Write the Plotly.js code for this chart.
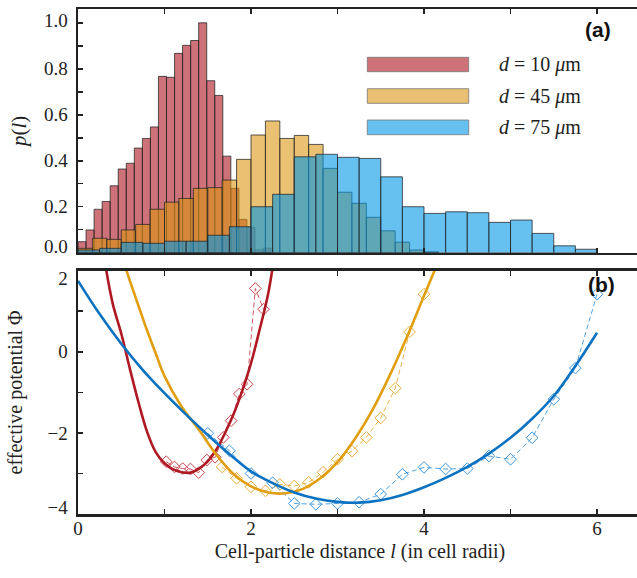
<!DOCTYPE html>
<html><head><meta charset="utf-8">
<script src="https://cdn.plot.ly/plotly-3.0.1.min.js"></script>
<style>html,body{margin:0;padding:0;overflow:hidden;background:#fff}</style>
</head><body><div id="chart" style="width:642px;height:578px"></div>
<script>
// ---- histogram data (panel a) ----
const binW10 = 0.093;
const p10 = [0.048,0.099,0.189,0.223,0.291,0.364,0.389,0.455,0.497,0.547,0.767,0.763,0.867,0.902,0.923,1.0,0.748,0.684,0.42,0.28,0.145,0.11,0.012,0.02];
const binW45 = 1/6;
const p45 = [0.019,0.063,0.058,0.099,0.123,0.189,0.220,0.236,0.280,0.283,0.316,0.406,0.512,0.573,0.497,0.510,0.471,0.367,0.263,0.215,0.154,0.095,0.046,0.012,0.004];
const binW75 = 0.25;
const p75 = [0.012,0.019,0.045,0.041,0.050,0.050,0.076,0.113,0.200,0.254,0.417,0.428,0.415,0.410,0.330,0.200,0.171,0.178,0.174,0.132,0.142,0.084,0.030,0.015];
const legendNames = ['<i>d</i> = 10 <i>μ</i>m','<i>d</i> = 45 <i>μ</i>m','<i>d</i> = 75 <i>μ</i>m'];

// ---- effective potential (panel b): measured points ----
const lPts10 = [1.02,1.115,1.21,1.30,1.395,1.49,1.585,1.68,1.77,1.865,1.955,2.05,2.145];
const phiPts10 = [-2.71,-2.84,-2.88,-2.89,-2.98,-2.67,-2.60,-2.11,-1.70,-1.04,-0.80,1.56,1.05];
const lPts45 = [1.667,1.833,2.0,2.167,2.333,2.5,2.667,2.833,3.0,3.167,3.333,3.5,3.667,3.833,4.0];
const phiPts45 = [-2.84,-3.12,-3.33,-3.43,-3.27,-3.31,-3.22,-2.97,-2.65,-2.45,-2.11,-1.63,-0.90,0.49,1.42];
const lPts75 = [1.5,1.75,2.0,2.25,2.5,2.75,3.0,3.25,3.5,3.75,4.0,4.25,4.5,4.75,5.0,5.25,5.5,5.75,6.0];
const phiPts75 = [-2.01,-2.44,-3.00,-3.23,-3.74,-3.76,-3.74,-3.71,-3.51,-3.02,-2.85,-2.89,-2.88,-2.57,-2.65,-2.12,-1.17,-0.40,1.42];

// ---- fitted curves ----
const lFit10 = [0.3,0.4,0.5,0.6,0.7,0.8,0.9,1.0,1.1,1.2,1.3,1.4,1.5,1.6,1.7,1.8,1.9,2.0,2.1,2.2,2.3];
const phiFit10 = [2.35,1.2,0.45,-0.42,-1.25,-1.98,-2.48,-2.75,-2.9,-2.97,-2.98,-2.88,-2.7,-2.41,-2.0,-1.53,-0.95,-0.28,0.55,1.45,2.8];
const lFit45 = [0.5,0.6,0.7,0.8,0.9,1.0,1.2,1.4,1.6,1.8,2.0,2.2,2.4,2.6,2.8,3.0,3.2,3.4,3.6,3.8,4.0,4.2];
const phiFit45 = [2.4,1.75,1.13,0.52,-0.05,-0.6,-1.36,-1.93,-2.54,-3.02,-3.32,-3.47,-3.49,-3.38,-3.12,-2.72,-2.15,-1.45,-0.6,0.35,1.38,2.4];
const lFit75 = [0,0.25,0.5,0.75,1.0,1.25,1.5,1.75,2.0,2.25,2.5,2.75,3.0,3.25,3.5,3.75,4.0,4.25,4.5,4.75,5.0,5.25,5.5,5.75,6.0];
const phiFit75 = [1.75,0.93,0.2,-0.45,-1.02,-1.55,-2.05,-2.52,-2.95,-3.24,-3.47,-3.62,-3.70,-3.72,-3.66,-3.53,-3.34,-3.11,-2.84,-2.51,-2.12,-1.65,-1.09,-0.35,0.47];

// ---- ticks and tick labels ----
const xTickVals = [0,1,2,3,4,5,6];
const xTickText = ['0','','2','','4','','6'];
const yTopTicks = [0,0.1,0.2,0.3,0.4,0.5,0.6,0.7,0.8,0.9,1.0];
const yTopText = ['0.0','0.2','0.4','0.6','0.8','1.0'];
const yBotTicks = [-4,-3,-2,-1,0,1,2];
const yBotText = ['\u22124','\u22122','0','2'];
// label anchor placement (end labels nudged inward as in the figure)
const yTopLabelAt = [0.028,0.2,0.4,0.6,0.8,1.01];
const yBotLabelAt = [-3.83,-2,0,1.8];

const fills = ['rgba(170,20,30,0.6)','rgba(220,150,20,0.6)','rgba(0,150,230,0.6)'];
const edge = 'rgba(35,35,35,0.75)';
const lineCols = ['rgb(175,25,35)','rgb(225,158,15)','rgb(10,114,192)'];
const ptCols = ['rgb(200,70,80)','rgb(232,172,60)','rgb(60,150,220)'];

function barTrace(p, w, i){
  return {type:'bar', x:p.map((_,k)=>k*w), y:p, width:w, offset:0,
    marker:{color:fills[i], line:{color:edge, width:1}}, xaxis:'x', yaxis:'y', hoverinfo:'skip'};
}
function ptsTrace(l, phi, i){
  return {type:'scatter', mode:'lines+markers', x:l, y:phi, xaxis:'x2', yaxis:'y2',
    line:{color:ptCols[i], width:0.9, dash:'5px,3px'},
    marker:{symbol:'diamond-open', size:9, color:ptCols[i], line:{width:1, color:ptCols[i]}}};
}
function fitTrace(l, phi, i){
  return {type:'scatter', mode:'lines', x:l, y:phi, xaxis:'x2', yaxis:'y2',
    line:{color:lineCols[i], width:2.6, shape:'spline', smoothing:1}};
}

const data = [
  barTrace(p10, binW10, 0), barTrace(p45, binW45, 1), barTrace(p75, binW75, 2),
  ptsTrace(lPts10, phiPts10, 0), ptsTrace(lPts45, phiPts45, 1), ptsTrace(lPts75, phiPts75, 2),
  fitTrace(lFit10, phiFit10, 0), fitTrace(lFit45, phiFit45, 1), fitTrace(lFit75, phiFit75, 2)
];

const axBase = {showline:true, linecolor:'#222', linewidth:2.5, mirror:'allticks', ticks:'inside',
  ticklen:5, tickwidth:1.5, tickcolor:'#222', showgrid:false, zeroline:false,
  tickfont:{family:'Liberation Serif, serif', size:19, color:'#222'}};
const minorTicks = vals => ({tickvals:vals, ticks:'inside', ticklen:5, tickwidth:1.5, tickcolor:'#222', showgrid:false});

const serif = 'Liberation Serif, Times New Roman, serif';
const X0 = 78, PW = 564, PB = 514, PH = 505;
const px = v => (v - X0)/PW, py = v => (PB - v)/PH;

const swatchY = [[57.3,71.7],[88.7,103.3],[120,134.7]];
const shapes = swatchY.map((s,i)=>({type:'rect', xref:'paper', yref:'paper',
  x0:px(367.3), x1:px(468.7), y0:py(s[1]), y1:py(s[0]), fillcolor:fills[i], line:{color:'rgba(120,120,120,0.8)', width:1}}));
const annotations = legendNames.map((t,i)=>({xref:'paper', yref:'paper', x:px(497), y:py((swatchY[i][0]+swatchY[i][1])/2),
  xanchor:'left', yanchor:'middle', text:t, showarrow:false, font:{family:serif, size:20, color:'#222'}}));
annotations.push({xref:'paper', yref:'paper', x:px(613), y:py(16), text:'<b>(a)</b>', showarrow:false,
  font:{family:'Liberation Sans, Arial, sans-serif', size:21, color:'#111'}});
annotations.push({xref:'paper', yref:'paper', x:px(617), y:py(284), text:'<b>(b)</b>', showarrow:false,
  font:{family:'Liberation Sans, Arial, sans-serif', size:21, color:'#111'}});

const layout = {
  width:642, height:578, margin:{l:78, r:0, t:9, b:64},
  paper_bgcolor:'#fff', plot_bgcolor:'#fff', showlegend:false, barmode:'overlay',
  font:{family:serif, size:19, color:'#222'},
  xaxis: Object.assign({}, axBase, {anchor:'y', range:[0,6.52], tickvals:xTickVals, showticklabels:false}),
  yaxis: Object.assign({}, axBase, {anchor:'x', domain:[0.5174,1], range:[0,1.06],
    tickvals:yTopLabelAt, ticktext:yTopText, ticklen:0, minor:minorTicks(yTopTicks),
    ticklabelstandoff:4,
    title:{text:'<i>p</i>(<i>l</i>)', font:{family:serif, size:21, color:'#222'}, standoff:12}}),
  xaxis2: Object.assign({}, axBase, {anchor:'y2', range:[0,6.52], tickvals:xTickVals, ticktext:xTickText,
    ticklabelstandoff:-4,
    title:{text:'Cell-particle distance <i>l</i> (in cell radii)', font:{family:serif, size:20, color:'#222'}, standoff:6}}),
  yaxis2: Object.assign({}, axBase, {anchor:'x2', domain:[0,0.4818], range:[-4,2],
    tickvals:yBotLabelAt, ticktext:yBotText, ticklen:0, minor:minorTicks(yBotTicks),
    ticklabelstandoff:4,
    title:{text:'effective potential Φ', font:{family:serif, size:20, color:'#222'}, standoff:20}}),
  shapes, annotations
};

Plotly.newPlot('chart', data, layout, {displayModeBar:false, staticPlot:true});
</script></body></html>
